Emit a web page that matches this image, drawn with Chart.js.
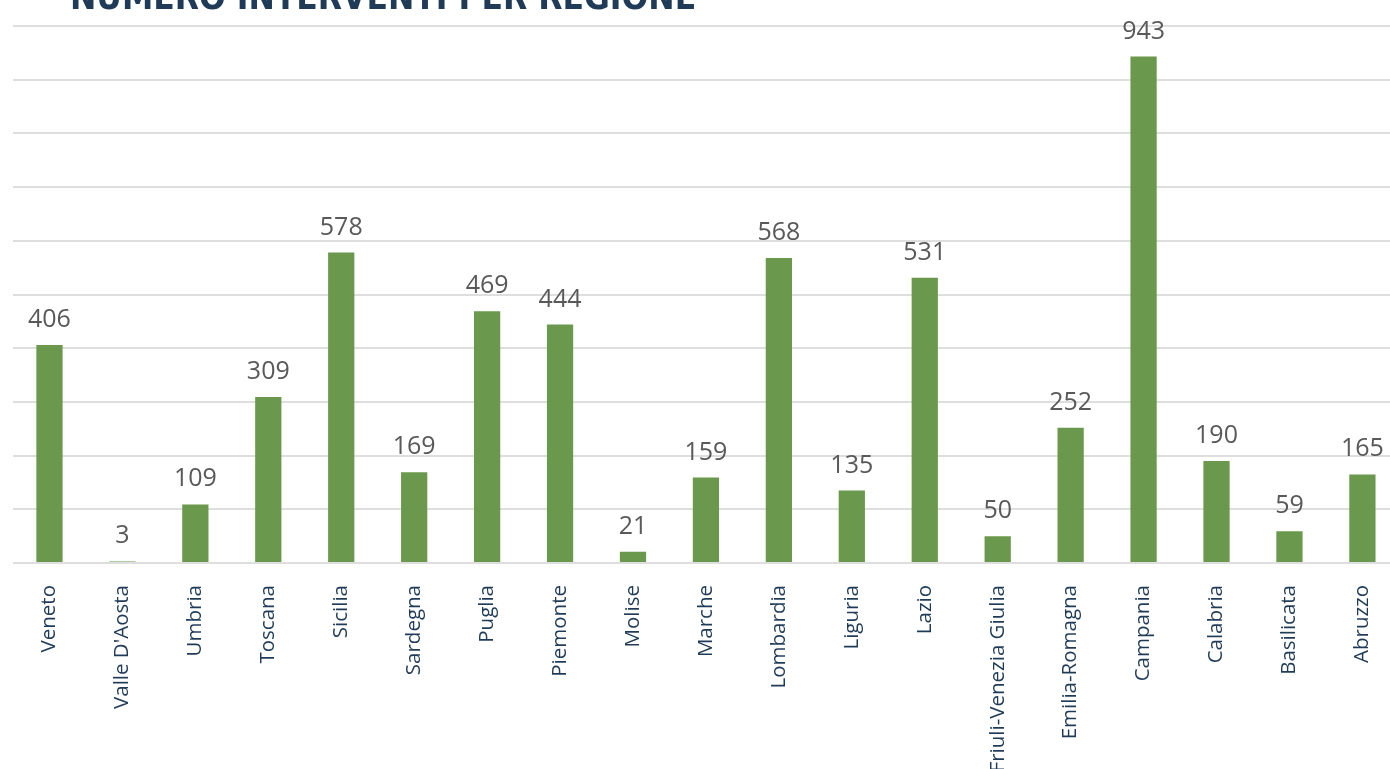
<!DOCTYPE html>
<html>
<head>
<meta charset="utf-8">
<script src="https://cdn.jsdelivr.net/npm/chart.js@4.4.1/dist/chart.umd.min.js"></script>
<style>
  html, body { margin: 0; padding: 0; background: #fff; overflow: hidden; width: 1390px; height: 769px; }
  #title {
    position: absolute; left: 70px; top: -20px; margin: 0;
    font-family: "Liberation Sans Narrow", "DejaVu Sans Condensed", sans-serif;
    font-weight: bold; font-size: 35px; line-height: 35px; color: #1f3b57;
    white-space: nowrap; z-index: 2;
  }
  #wrap { position: absolute; left: 0; top: 0; width: 1401px; height: 769px; }
</style>
</head>
<body>
<div id="title">NUMERO INTERVENTI PER REGIONE</div>
<div id="wrap"><canvas id="myChart"></canvas></div>
<script>
// regions and number of interventions
const regioni = ['Veneto', "Valle D'Aosta", 'Umbria', 'Toscana', 'Sicilia', 'Sardegna', 'Puglia',
    'Piemonte', 'Molise', 'Marche', 'Lombardia', 'Liguria', 'Lazio', 'Friuli-Venezia Giulia',
    'Emilia-Romagna', 'Campania', 'Calabria', 'Basilicata', 'Abruzzo'];
const interventi = [406, 3, 109, 309, 578, 169, 469, 444, 21, 159, 568, 135, 531, 50, 252, 943, 190, 59, 165];
const yMax = 1000;
const yStep = 100;

// value labels above each bar
const barLabels = {
    id: 'barLabels',
    afterDatasetsDraw(chart) {
        const ctx = chart.ctx;
        const meta = chart.getDatasetMeta(0);
        ctx.save();
        ctx.font = '25px "Open Sans", sans-serif';
        ctx.fillStyle = '#595959';
        ctx.textAlign = 'center';
        ctx.textBaseline = 'alphabetic';
        meta.data.forEach((bar, i) => {
            ctx.fillText(interventi[i], bar.x, bar.y - 18);
        });
        ctx.restore();
    }
};

const ctx = document.getElementById('myChart');
const myChart = new Chart(ctx, {
    type: 'bar',
    data: {
        labels: regioni,
        datasets: [{
            data: interventi,
            backgroundColor: '#6a994d',
            categoryPercentage: 1.0,
            barPercentage: 0.36
        }]
    },
    options: {
        responsive: true,
        maintainAspectRatio: false,
        animation: false,
        layout: { padding: { top: 26, left: 0, right: 0, bottom: 0 } },
        scales: {
            x: {
                grid: { display: false },
                border: { display: false },
                ticks: {
                    autoSkip: false,
                    minRotation: 90,
                    maxRotation: 90,
                    padding: 14,
                    color: '#1f3b57',
                    font: { family: '"Open Sans", sans-serif', size: 20.5 }
                },
                afterFit: s => { s.height = 206; }
            },
            y: {
                min: 0,
                max: yMax,
                ticks: { display: false, stepSize: yStep },
                grid: { color: '#dedede', lineWidth: 2, drawTicks: false },
                border: { display: false },
                afterFit: s => { s.width = 13; }
            }
        },
        plugins: {
            legend: { display: false },
            tooltip: { enabled: false }
        }
    },
    plugins: [barLabels]
});
</script>
</body>
</html>
